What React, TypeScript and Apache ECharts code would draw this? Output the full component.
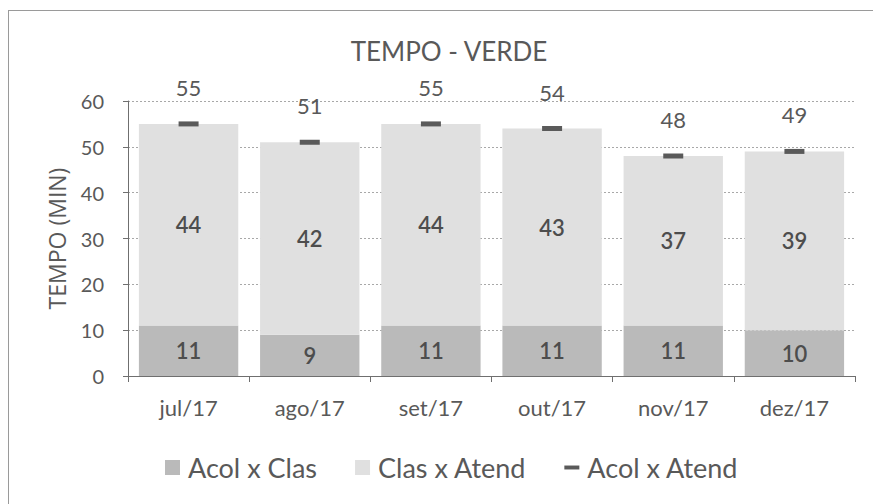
import React, { useEffect, useRef } from "react";
import * as echarts from "echarts";

const categories = ["jul/17", "ago/17", "set/17", "out/17", "nov/17", "dez/17"];
const acolClas = [11, 9, 11, 11, 11, 10];
const clasAtend = [44, 42, 44, 43, 37, 39];
const acolAtend = [55, 51, 55, 54, 48, 49];
const yTicks = [0, 10, 20, 30, 40, 50, 60];

const FONT = "Lato, 'Open Sans', sans-serif";
const TXT = "#595959";

export default function App() {
  const ref = useRef<HTMLDivElement>(null);
  useEffect(() => {
    const chart = echarts.init(ref.current!, null, { renderer: "svg" });
    chart.setOption({
      animation: false,
      backgroundColor: "#ffffff",
      textStyle: { fontFamily: FONT, color: TXT },
      title: {
        text: "TEMPO - VERDE",
        left: 444,
        textAlign: "center",
        top: 33,
        textStyle: { fontFamily: FONT, fontSize: 26, fontWeight: "normal", color: TXT },
      },
      graphic: [
        { type: "line", shape: { x1: 8.5, y1: 10, x2: 8.5, y2: 504 }, style: { stroke: "#9a9a9a", lineWidth: 1 } },
        { type: "line", shape: { x1: 8, y1: 10.5, x2: 873, y2: 10.5 }, style: { stroke: "#9a9a9a", lineWidth: 1 } },
      ],
      grid: { left: 128, right: 18, top: 101, bottom: 128 },
      legend: {
        top: 449,
        left: 160,
        itemGap: 38,
        itemWidth: 15,
        itemHeight: 15,
        textStyle: { fontFamily: FONT, fontSize: 27, color: TXT, padding: [0, 0, 0, 3] },
        data: [
          { name: "Acol x Clas", icon: "rect" },
          { name: "Clas x Atend", icon: "rect" },
          { name: "Acol x Atend", icon: "path://M0,0H19V5H0Z" },
        ],
      },
      xAxis: {
        type: "category",
        data: categories,
        axisLine: { lineStyle: { color: "#6f6f6f" } },
        axisTick: { show: true, length: 6, lineStyle: { color: "#6f6f6f" } },
        axisLabel: { fontFamily: FONT, fontSize: 22, color: TXT, margin: 20 },
      },
      yAxis: {
        type: "value",
        min: yTicks[0],
        max: yTicks[yTicks.length - 1],
        interval: 10,
        name: "TEMPO (MIN)",
        nameLocation: "middle",
        nameGap: 60,
        nameTextStyle: { fontFamily: "'Open Sans', sans-serif", fontSize: 23, color: TXT },
        axisLine: { show: true, lineStyle: { color: "#6f6f6f" } },
        axisTick: { show: true, length: 5, lineStyle: { color: "#6f6f6f" } },
        axisLabel: { fontFamily: FONT, fontSize: 20, color: TXT, margin: 24 },
        splitLine: { show: true, lineStyle: { color: "#a8a8a8", type: [2, 2], width: 1 } },
      },
      series: [
        {
          name: "Acol x Clas",
          type: "bar",
          stack: "t",
          barCategoryGap: "18%",
          data: acolClas,
          itemStyle: { color: "#bababa" },
          label: { show: true, position: "inside", fontFamily: FONT, fontSize: 22, fontWeight: 600, color: "#4d4d4d" },
        },
        {
          name: "Clas x Atend",
          type: "bar",
          stack: "t",
          barCategoryGap: "18%",
          data: clasAtend,
          itemStyle: { color: "#e0e0e0" },
          label: { show: true, position: "inside", fontFamily: FONT, fontSize: 22, fontWeight: 600, color: "#4d4d4d" },
        },
        {
          name: "Acol x Atend",
          type: "line",
          data: acolAtend,
          symbol: "rect",
          symbolSize: [20, 5],
          itemStyle: { color: "#5a5a5a" },
          lineStyle: { width: 0, opacity: 0 },
          label: { show: true, position: "top", distance: 23, fontFamily: FONT, fontSize: 22, color: TXT },
          z: 5,
        },
      ],
    });
    return () => chart.dispose();
  }, []);
  return <div ref={ref} style={{ width: 873, height: 504, position: "absolute", left: 0, top: 0 }} />;
}
